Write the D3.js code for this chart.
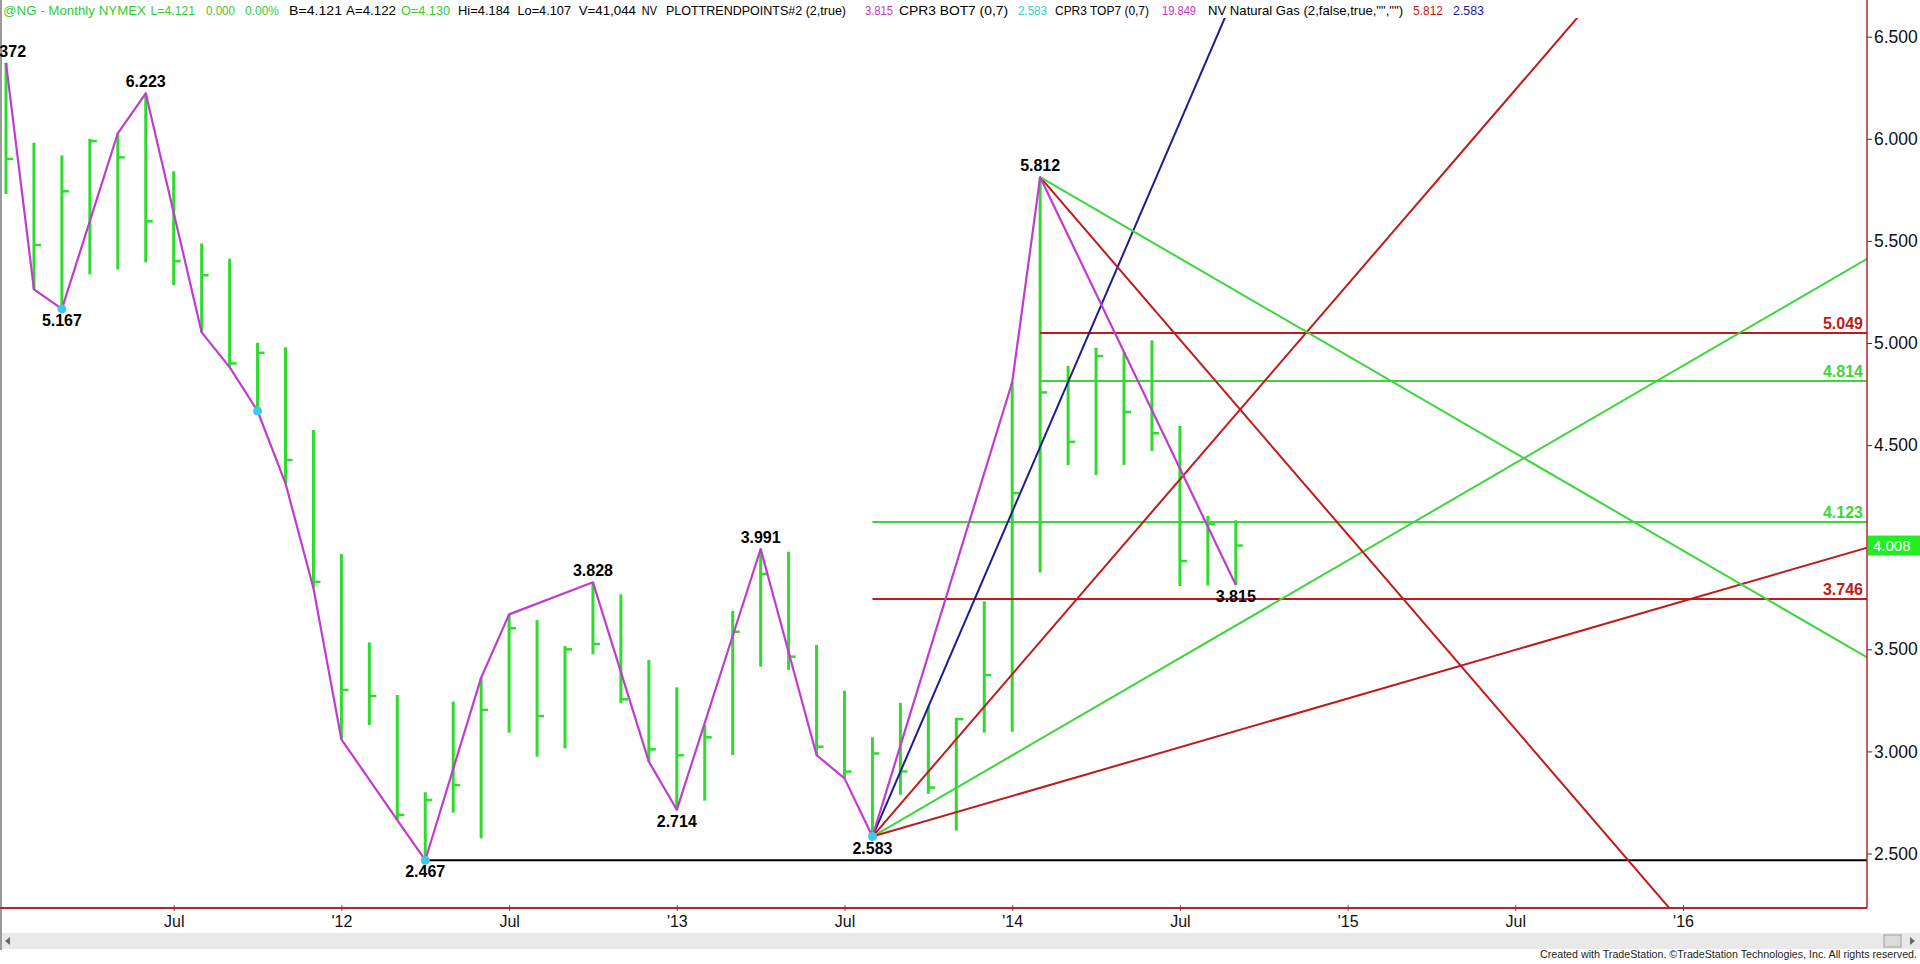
<!DOCTYPE html>
<html><head><meta charset="utf-8">
<script src="https://cdn.jsdelivr.net/npm/d3@7"></script>
<style>
html,body{margin:0;padding:0;background:#fff;overflow:hidden}
svg{display:block;font-family:"Liberation Sans",Arial,sans-serif}
</style></head><body>
<svg id="chart" width="1920" height="964"></svg>
<script>
// ---------------- DATA ----------------
// Monthly bars, index 0 = Jan 2011
const highs  = [6.372,5.981,5.919,6.000,6.027,6.223,5.841,5.488,5.413,5.001,4.979,4.574,3.967,3.534,3.276,2.800,3.244,3.361,3.671,3.643,3.516,3.828,3.769,3.448,3.314,3.129,3.688,3.991,3.978,3.521,3.297,3.069,3.238,3.220,3.165,3.735,4.808,5.812,4.888,4.977,4.953,5.013,4.594,4.153,4.132];
const lows   = [5.730,5.263,5.167,5.336,5.361,5.395,5.283,5.052,4.882,4.667,4.313,3.799,3.059,3.129,2.664,2.467,2.700,2.574,3.092,2.974,3.015,3.475,3.236,2.950,2.714,2.759,2.982,3.415,3.399,2.982,2.868,2.583,2.788,2.792,2.612,3.092,3.096,3.876,4.402,4.354,4.403,4.471,3.810,3.813,3.815];
const closes = [5.901,5.480,5.743,5.989,5.909,5.596,5.401,5.332,4.900,4.952,4.427,3.830,3.301,3.271,2.689,2.762,2.835,3.203,3.603,3.173,3.500,3.526,3.255,3.010,2.981,3.069,3.586,3.869,3.464,3.023,2.901,2.990,2.902,2.823,3.158,3.374,4.265,4.758,4.516,4.936,4.662,4.558,3.932,4.115,4.008];

// Trend (swing) line points
const swingBars   = [0,1,2,4,5,7,8,9,10,11,12,14,15,17,18,21,23,24,27,29,30,31,36,37,44];
const swingPrices = [6.372,5.263,5.167,6.027,6.223,5.052,4.882,4.667,4.313,3.799,3.059,2.664,2.467,3.361,3.671,3.828,2.950,2.714,3.991,2.982,2.868,2.583,4.808,5.812,3.815];

// Labelled pivots
const pivotBars   = [0,2,5,15,21,24,27,31,37,44];
const pivotPrices = [6.372,5.167,6.223,2.467,3.828,2.714,3.991,2.583,5.812,3.815];
const pivotSides  = ["above","below","above","below","above","below","above","below","above","below"];

// Bottom markers (CPR3 BOT7)
const dotBars   = [2,9,15,31];
const dotPrices = [5.167,4.667,2.467,2.583];

// Horizontal levels
const levelPrices    = [5.049,4.814,4.123,3.746];
const levelStartBars = [37,37,31,31];
const supportPrice = 2.467, supportStartBar = 15;

// Gann fans
const lowPivot  = [31, 2.583];
const highPivot = [37, 5.812];
const gannUnit  = 0.159;          // price per month for 1x1
const fanUpRatios   = [2, 1, 0.5, 0.25];
const fanDownRatios = [1, 0.5];

// Axes (4.000 is hidden under the last-price box)
const yTicks = [2.5,3.0,3.5,4.5,5.0,5.5,6.0,6.5];
const xTickBars   = [6,12,18,24,30,36,42,48,54,60];
const xTickLabels = ["Jul","'12","Jul","'13","Jul","'14","Jul","'15","Jul","'16"];
const lastPrice = 4.008;

// Header text
const headerTexts = ["@NG - Monthly NYMEX","L=4.121","0.000","0.00%","B=4.121","A=4.122","O=4.130","Hi=4.184","Lo=4.107","V=41,044","NV","PLOTTRENDPOINTS#2 (2,true)","3.815","CPR3 BOT7 (0,7)","2.583","CPR3 TOP7 (0,7)","19.849","NV Natural Gas (2,false,true,\"\",\"\")","5.812","2.583"];

// ---------------- STYLE / LAYOUT ----------------
const C = {
  bar:"#2fdb2f", green:"#3cd63c", red:"#c01a1a", blue:"#1d1d8f",
  magenta:"#c23bcf", cyan:"#40c8ec", axisRed:"#b3262b", black:"#000"
};
const levelColors = [C.red, C.green, C.green, C.red];
const fanUpColors = [C.blue, C.red, C.green, C.red];
const fanDownColors = [C.red, C.green];
const headerColors = ["#33cc33","#33cc33","#33cc33","#33cc33","#000","#000","#33cc33","#000","#000","#000","#000","#000","#cc33cc","#000","#33cccc","#000","#cc33cc","#000","#cc1111","#1a1aa0"];
const headerX   = [3,150.6,206,245,289,346,401,458,517.5,578.7,641.8,666,865,899,1018,1055,1162,1208,1413,1453];
const headerEnd = [146,195,235,279,342,396,450,510,571,636,657,846,893,1008,1047,1149,1196,1403,1443,1484];

const W = 1920, H = 964;
const plotRight = 1867, plotTop = 18, axisY = 908;

const svg = d3.select("#chart");

const x = d3.scaleLinear().domain([0, 60]).range([6, 1683]);
const y = d3.scaleLinear().domain([2.5, 6.5]).range([853.5, 36.7]);

svg.append("defs").append("clipPath").attr("id","plotClip")
  .append("rect").attr("x",0).attr("y",plotTop).attr("width",plotRight).attr("height",axisY-plotTop);

// header
const hdr = svg.append("g");
headerTexts.forEach((t,i)=>{
  hdr.append("text").attr("x",headerX[i]).attr("y",15)
    .attr("font-size",13.5).attr("fill",headerColors[i])
    .attr("textLength",headerEnd[i]-headerX[i]).attr("lengthAdjust","spacingAndGlyphs")
    .text(t);
});

// left window border
svg.append("line").attr("x1",1).attr("x2",1).attr("y1",0).attr("y2",950)
  .attr("stroke","#9a9a9a").attr("stroke-width",2);

const plot = svg.append("g").attr("clip-path","url(#plotClip)");

// bars
const idx = d3.range(highs.length);
plot.append("g").selectAll("line").data(idx).join("line")
  .attr("x1",i=>x(i)).attr("x2",i=>x(i))
  .attr("y1",i=>y(highs[i])).attr("y2",i=>y(lows[i]))
  .attr("stroke",C.bar).attr("stroke-width",3);
plot.append("g").selectAll("line").data(idx).join("line")
  .attr("x1",i=>x(i)).attr("x2",i=>x(i)+7)
  .attr("y1",i=>y(closes[i])).attr("y2",i=>y(closes[i]))
  .attr("stroke",C.bar).attr("stroke-width",2.5);

// support line
plot.append("line").attr("x1",x(supportStartBar)).attr("x2",plotRight)
  .attr("y1",y(supportPrice)).attr("y2",y(supportPrice))
  .attr("stroke",C.black).attr("stroke-width",2);

// levels
levelPrices.forEach((p,i)=>{
  plot.append("line").attr("x1",x(levelStartBars[i])).attr("x2",plotRight)
    .attr("y1",y(p)).attr("y2",y(p)).attr("stroke",levelColors[i]).attr("stroke-width",2);
});

// fans
const line = d3.line().x(d=>x(d[0])).y(d=>y(d[1]));
const farBar = 80;
fanUpRatios.forEach((r,i)=>{
  const pts = [lowPivot, [farBar, lowPivot[1] + r*gannUnit*(farBar-lowPivot[0])]];
  plot.append("path").attr("d",line(pts)).attr("fill","none")
    .attr("stroke",fanUpColors[i]).attr("stroke-width",2);
});
fanDownRatios.forEach((r,i)=>{
  const pts = [highPivot, [farBar, highPivot[1] - r*gannUnit*(farBar-highPivot[0])]];
  plot.append("path").attr("d",line(pts)).attr("fill","none")
    .attr("stroke",fanDownColors[i]).attr("stroke-width",2);
});

// swing line
const swing = swingBars.map((b,i)=>[b, swingPrices[i]]);
plot.append("path").attr("d",line(swing)).attr("fill","none")
  .attr("stroke",C.magenta).attr("stroke-width",2.2).attr("stroke-linejoin","round");

// dots
plot.append("g").selectAll("circle").data(dotBars).join("circle")
  .attr("cx",b=>x(b)).attr("cy",(b,i)=>y(dotPrices[i])).attr("r",4.5)
  .attr("fill",C.cyan);

// pivot labels
svg.append("g").selectAll("text").data(pivotBars).join("text")
  .attr("x",b=>x(b))
  .attr("y",(b,i)=> pivotSides[i]==="above" ? y(pivotPrices[i]) - 6 : y(pivotPrices[i]) + 17)
  .attr("text-anchor","middle").attr("font-size",16).attr("font-weight","bold").attr("fill","#000")
  .text((b,i)=>d3.format(".3f")(pivotPrices[i]));

// level labels
levelPrices.forEach((p,i)=>{
  svg.append("text").attr("x",1863).attr("y",y(p)-4).attr("text-anchor","end")
    .attr("font-size",16).attr("font-weight","bold").attr("fill",levelColors[i])
    .text(d3.format(".3f")(p));
});

// Y axis (right)
const yAxis = svg.append("g").attr("transform",`translate(${plotRight},0)`)
  .call(d3.axisRight(y).tickValues(yTicks).tickFormat(d3.format(".3f")).tickSize(5).tickPadding(2));
yAxis.select(".domain").remove();
yAxis.selectAll(".tick line").attr("stroke","#333");
yAxis.selectAll(".tick text").attr("font-size",17.5).attr("fill","#111")
  .attr("font-family","Liberation Sans, Arial, sans-serif");
svg.append("line").attr("x1",plotRight).attr("x2",plotRight).attr("y1",0).attr("y2",axisY)
  .attr("stroke",C.axisRed).attr("stroke-width",1.5);

// last price box
svg.append("rect").attr("x",plotRight+1).attr("y",y(lastPrice)-10).attr("width",W-plotRight-1).attr("height",20)
  .attr("fill","#22ee22");
svg.append("text").attr("x",plotRight+6).attr("y",y(lastPrice)+5.5).attr("font-size",15)
  .attr("fill","#fff").text(d3.format(".3f")(lastPrice));

// X axis
const xAxis = svg.append("g").attr("transform",`translate(0,${axisY})`)
  .call(d3.axisBottom(x).tickValues(xTickBars).tickFormat((d,i)=>xTickLabels[i]).tickSize(4).tickPadding(0));
xAxis.select(".domain").remove();
xAxis.selectAll(".tick line").attr("y1",-3).attr("y2",3).attr("stroke",C.axisRed);
xAxis.selectAll(".tick text").attr("y",19).attr("dy",0).attr("font-size",16).attr("fill","#111")
  .attr("font-family","Liberation Sans, Arial, sans-serif");
svg.append("line").attr("x1",0).attr("x2",plotRight).attr("y1",axisY).attr("y2",axisY)
  .attr("stroke",C.axisRed).attr("stroke-width",2);

// scroll band
svg.append("rect").attr("x",2).attr("y",933).attr("width",W-2).attr("height",16).attr("fill","#e9e9e9");
svg.append("path").attr("d","M10,937 L5,941 L10,945 Z").attr("fill","#666");
svg.append("rect").attr("x",1884).attr("y",935).attr("width",17).attr("height",12)
  .attr("fill","#dcdcdc").attr("stroke","#a0a0a0");
svg.append("path").attr("d","M1910,937 L1915,941 L1910,945 Z").attr("fill","#666");

// credits
svg.append("text").attr("x",1917).attr("y",958).attr("text-anchor","end")
  .attr("font-size",11).attr("fill","#222")
  .attr("textLength",377).attr("lengthAdjust","spacingAndGlyphs")
  .text("Created with TradeStation. \u00A9TradeStation Technologies, Inc. All rights reserved.");
</script>
</body></html>
